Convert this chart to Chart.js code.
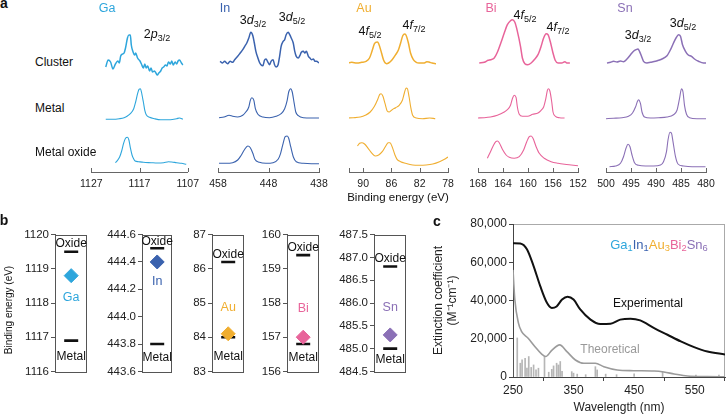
<!DOCTYPE html>
<html>
<head>
<meta charset="utf-8">
<script src="https://cdn.jsdelivr.net/npm/chart.js@4.4.1/dist/chart.umd.min.js"></script>
<style>
  body { margin: 0; background: #fff; font-family: "Liberation Sans", Arial, sans-serif; color: #111; }
  #fig { position: relative; width: 727px; height: 415px; overflow: hidden; }
  #fig canvas { position: absolute; }
  .t { position: absolute; white-space: nowrap; line-height: 1; transform: translate(-50%, -50%); }
  .t sub { font-size: 0.72em; vertical-align: -0.32em; line-height: 0; }
</style>
</head>
<body>
<div id="fig"></div>
<script>
// ---- panel a : XPS spectra, pairs of [binding energy (eV), intensity (a.u.)]
const gaCluster = [[1124.0,11],[1123.5,18],[1123.0,16],[1122.5,9],[1122.0,14],[1121.5,17],[1121.2,15],[1120.9,22],[1120.5,24],[1120.2,25],[1119.9,30],[1119.5,40],[1119.2,43],[1118.9,43],[1118.7,33],[1118.4,27],[1118.0,23],[1117.8,25],[1117.4,20],[1116.9,17],[1116.6,14],[1116.2,10],[1115.9,14],[1115.6,10],[1115.3,12],[1114.9,7],[1114.6,10],[1114.3,6],[1113.9,7],[1113.6,5],[1113.3,3],[1113.0,5],[1112.6,7],[1112.3,10],[1112.0,11],[1111.6,13],[1111.3,12],[1111.0,16],[1110.6,14],[1110.3,17],[1110.0,13],[1109.6,16],[1109.3,14],[1109.0,17],[1108.7,18],[1108.3,15],[1108.0,13]];
const gaMetal = [[1124.0,2.7],[1122.5,2.7],[1121.2,3.3],[1120.2,4.3],[1119.5,6],[1118.9,8.3],[1118.2,13.3],[1117.8,20],[1117.4,28.3],[1117.1,32.7],[1116.8,33.3],[1116.6,30],[1116.2,20],[1115.9,11.7],[1115.6,7.3],[1114.9,4.7],[1113.9,3.3],[1112.6,2.3],[1110.6,2.3],[1109.3,3.3],[1108.7,4],[1108.0,2.7]];
const gaOxide = [[1122.0,2.3],[1121.5,5],[1121.1,8.3],[1120.7,14],[1120.3,21.7],[1119.9,26.7],[1119.5,27.7],[1119.2,25],[1118.9,17.3],[1118.55,10],[1118.2,6],[1117.9,4],[1117.2,3.3],[1116.2,2.7],[1114.6,2.3],[1113.3,2],[1112.0,2.3],[1111.0,3.3],[1110.3,3],[1109.3,2.3],[1108.3,1.7],[1107.3,0.7]];

const inCluster = [[457.6,16.7],[457.1,15],[456.7,16.7],[456.1,14.3],[455.6,16.7],[455.1,15.7],[454.7,18.3],[454.1,21.7],[453.6,25],[453.1,28.3],[452.7,31.7],[452.3,35],[451.9,40],[451.5,45.7],[451.1,42.3],[450.8,35],[450.5,26.7],[450.1,20],[449.8,15.7],[449.5,13.3],[449.1,12.3],[448.8,17.7],[448.5,19],[448.1,15.7],[447.8,13.3],[447.5,16.7],[447.1,18.3],[446.8,13.3],[446.5,11],[446.1,13.3],[445.8,21.7],[445.5,31.7],[445.1,36.7],[444.8,38.3],[444.5,43.3],[444.1,45.7],[443.8,43.3],[443.5,40],[443.1,35],[442.8,26.7],[442.5,21.7],[442.1,20],[441.8,22.3],[441.5,25.7],[441.1,26.7],[440.8,25],[440.5,26.7],[440.1,21.7],[439.8,20],[439.5,18.3],[439.1,19],[438.8,16.7],[438.5,16.7],[438.0,15]];
const inMetal = [[457.8,4.3],[456.8,5],[455.8,6.7],[455.1,5.7],[454.1,5],[453.1,6.7],[452.5,10],[451.9,15],[451.6,21.7],[451.3,24.3],[450.9,21.7],[450.6,13.3],[450.1,7.7],[449.1,5],[447.8,4.3],[446.5,5.7],[445.5,8.3],[444.8,13.3],[444.3,21.7],[444.0,30],[443.6,33.3],[443.3,30],[442.9,18.3],[442.6,10],[442.1,6.3],[441.1,4.3],[439.5,4],[438.0,4]];
const inOxide = [[457.8,1.7],[456.5,1.7],[455.1,2.3],[454.1,5],[453.5,9],[452.8,15],[452.1,19],[451.6,17.3],[451.1,11.7],[450.7,5.7],[449.8,2.7],[448.5,1.7],[447.1,2.3],[446.1,5.7],[445.6,11.7],[445.1,21.7],[444.7,28.3],[444.3,29],[444.0,26.7],[443.6,18.3],[443.1,8.3],[442.5,3.3],[441.1,1.7],[439.5,1.3],[438.0,1.3]];

const auCluster = [[92.2,15],[91.6,15.7],[90.9,15],[90.2,15.7],[89.6,16.7],[89.1,20],[88.75,26.7],[88.4,34.3],[88.0,36],[87.8,34.3],[87.4,25],[87.1,17.7],[86.7,14.3],[86.4,15],[85.9,18.3],[85.4,23.3],[85.0,28.3],[84.7,35],[84.4,42.3],[84.1,44],[83.9,42.3],[83.6,35],[83.3,25],[82.9,18.3],[82.5,15.7],[82.1,15],[81.35,15],[81.0,16.3],[80.6,15.7],[80.25,15],[79.7,14.3]];
const auMetal = [[92.2,4],[91.4,4.3],[90.4,5],[89.7,6.7],[89.0,10],[88.4,15.7],[87.9,23.3],[87.65,27.7],[87.46,28.3],[87.2,25.7],[86.9,18.3],[86.6,11],[86.3,10],[85.9,12.3],[85.4,14.3],[84.9,16.7],[84.45,21.7],[84.17,29],[83.93,34],[83.74,33.3],[83.5,25],[83.26,14.3],[83.0,6.7],[82.5,4],[81.6,3.3],[80.6,4],[79.8,3.3]];
const auOxide = [[90.8,19],[90.5,21.7],[90.2,22.3],[89.8,21],[89.3,16.7],[88.75,11.7],[88.3,9],[87.8,10],[87.3,13.3],[86.8,19],[86.46,22.3],[86.2,22.3],[85.9,18.3],[85.5,10],[85.2,5.7],[84.7,3.3],[84.0,1.7],[83.0,0],[82.1,-0.3],[81.1,0],[80.15,1],[79.2,3.3],[78.5,5.7],[78.0,8]];

const biCluster = [[167.8,15],[167.0,15.7],[166.4,17.7],[166.0,18.3],[165.4,20],[164.9,25.7],[164.35,35],[163.8,45],[163.3,53.3],[162.8,57.3],[162.5,58.3],[162.1,55.7],[161.7,46.7],[161.2,31.7],[160.9,20],[160.5,14.3],[160.05,13.3],[159.5,15],[159.0,18.3],[158.4,23.3],[157.9,31.7],[157.5,40],[157.1,44.3],[156.8,43.3],[156.45,36.7],[156.0,25],[155.65,17.7],[155.2,15],[154.6,15],[154.1,16.3],[153.8,15],[153.3,15]];
const biMetal = [[168.1,4],[167.0,4.3],[166.0,5],[164.9,6.7],[163.8,10],[163.3,12.3],[162.8,16.7],[162.5,23.3],[162.2,26.7],[161.9,24.3],[161.7,15],[161.4,7.7],[160.9,5.7],[160.05,5.7],[159.25,7.7],[158.4,9],[157.9,11.7],[157.5,15],[157.15,23.3],[156.9,31.7],[156.7,33.3],[156.5,31],[156.2,20],[156.0,10],[155.6,5.7],[154.95,4.3],[154.15,4]];
const biOxide = [[166.5,6.7],[166.0,13.3],[165.5,20],[165.15,23.3],[164.9,24],[164.6,22.3],[164.1,15.7],[163.5,10],[163.0,7.7],[162.2,6.7],[161.4,8.3],[160.7,15],[160.2,23.3],[159.8,28.3],[159.5,29],[159.2,26.7],[158.7,18.3],[158.2,11.7],[157.4,6.7],[156.3,3.3],[155.2,1.7],[154.15,0.7],[153.1,0],[152.0,-0.7]];

const snCluster = [[499.8,15],[499.1,15.7],[498.5,16.7],[497.8,16],[497.1,17],[496.5,16.3],[495.8,19],[495.1,23.3],[494.5,26.7],[494.0,28.3],[493.6,29],[493.3,26.7],[492.9,21.7],[492.5,16.7],[491.8,15],[491.1,15.7],[490.1,16.7],[489.5,17.7],[488.8,19],[487.8,22.3],[487.1,28.3],[486.5,35],[486.0,40],[485.5,43.3],[485.1,41.7],[484.7,33.3],[484.1,26.7],[483.6,23.3],[482.9,21.7],[482.3,19],[481.5,16.7],[480.5,15],[480.0,15]];
const snMetal = [[500.0,3.3],[498.5,3.7],[496.8,4.3],[495.5,5.7],[494.7,9],[494.1,15],[493.7,20.7],[493.5,22.3],[493.1,18.3],[492.8,10],[492.3,5],[491.1,4],[489.5,4.3],[487.8,5],[486.5,7.3],[485.8,11.7],[485.3,23.3],[484.9,33.3],[484.6,30],[484.3,16.7],[483.9,7.7],[483.3,4.3],[481.8,3.3],[480.0,3.3]];
const snOxide = [[499.3,-1.7],[498.1,-1],[497.1,1.7],[496.5,8.3],[496.0,16.7],[495.6,20.7],[495.2,18.3],[494.8,10],[494.3,2.3],[493.5,-0.3],[492.1,-1],[490.5,-1],[489.1,0],[488.5,3.3],[487.9,13.3],[487.6,25],[487.2,32.7],[486.9,31.7],[486.6,23.3],[486.1,8.3],[485.6,1],[484.5,-1],[482.8,-1.7],[480.1,-1.7]];

const gaTicks = [1127, 1117, 1107];
const inTicks = [458, 448, 438];
const auTicks = [90, 86, 82, 78];
const biTicks = [168, 164, 160, 156, 152];
const snTicks = [500, 495, 490, 485, 480];

// ---- panel b : binding energies (eV)
const bElements = ['Ga', 'In', 'Au', 'Bi', 'Sn'];
const oxideBE   = [1119.5, 444.5, 86.2, 159.4, 486.8];
const clusterBE = [1118.8, 444.4, 84.1, 157.0, 485.3];
const metalBE   = [1116.9, 443.8, 84.0, 156.8, 485.0];
const bMin  = [1116, 443.6, 83, 156, 484.5];
const bMax  = [1120, 444.6, 87, 160, 487.5];
const bStep = [1, 0.2, 1, 1, 0.5];

// ---- panel c : extinction spectra
const expWl  = [250, 262, 273, 284, 295, 306, 314, 322, 331, 340, 350, 361, 378, 394, 411, 427, 444, 460, 483, 505, 527, 549, 571, 600];
const expEps = [70000, 69800, 66800, 58000, 47500, 38800, 36100, 36900, 40500, 42000, 40500, 35300, 30000, 27700, 27900, 30000, 30500, 29600, 25600, 22100, 18600, 15600, 13300, 11800];
const thWl   = [250, 253, 259, 264, 275, 286, 297, 304, 314, 327, 339, 353, 367, 386, 400, 422, 449, 483, 499, 516, 538, 571, 600];
const thEps  = [56000, 40500, 28200, 23900, 20300, 16000, 12100, 10700, 13900, 16800, 13300, 8900, 7200, 7200, 5400, 3700, 3300, 3100, 2600, 1600, 500, 200, 100];
const stickWl  = [250, 257, 262, 265, 270, 273, 276, 280, 284, 288, 292, 302, 309, 314, 317, 322, 325, 328, 331, 347, 350, 356, 370, 386, 389, 403, 421, 450, 497, 552, 590];
const stickEps = [14000, 20400, 7200, 9000, 9800, 4600, 10700, 5000, 6300, 3700, 4600, 10700, 2500, 4000, 5800, 7200, 6300, 8100, 3000, 2800, 2000, 1500, 1200, 5400, 3700, 1500, 1200, 1600, 2800, 1000, 1000];
const cTicksX = [250, 350, 450, 550];

// colours
const colGa = '#2ea6dc', colIn = '#3a62ae', colAu = '#f0ae30', colBi = '#e8649a', colSn = '#8b70b6';
const elColors = [colGa, colIn, colAu, colBi, colSn];

Chart.defaults.font.family = '"Liberation Sans", Arial, sans-serif';
Chart.defaults.color = '#222';
Chart.defaults.animation = false;
Chart.defaults.plugins.legend.display = false;
Chart.defaults.plugins.tooltip.enabled = false;

const fig = document.getElementById('fig');

function addCanvas(x, y, w, h) {
  const c = document.createElement('canvas');
  c.width = w; c.height = h;
  c.style.left = x + 'px'; c.style.top = y + 'px';
  c.style.width = w + 'px'; c.style.height = h + 'px';
  fig.appendChild(c);
  return c;
}

function text(html, x, y, css) {
  const d = document.createElement('div');
  d.className = 't';
  d.innerHTML = html;
  d.style.left = x + 'px';
  d.style.top = y + 'px';
  Object.assign(d.style, css || {});
  fig.appendChild(d);
  return d;
}

// small tick marks pointing up from the x axis line
const upTicks = {
  id: 'upTicks',
  afterDraw(chart) {
    const s = chart.scales.x, ctx = chart.ctx, a = chart.chartArea;
    const xs = s.ticks.map(t => s.getPixelForValue(t.value)).concat([a.left, a.right]);
    ctx.save();
    ctx.strokeStyle = '#666';
    ctx.lineWidth = 1;
    xs.forEach(px => {
      const p = Math.round(px) + 0.5;
      ctx.beginPath(); ctx.moveTo(p, a.bottom); ctx.lineTo(p, a.bottom - 4); ctx.stroke();
    });
    ctx.restore();
  }
};

// ---------------- panel a ----------------
const rowBase = [94, 50, 7];   // cluster, metal, metal oxide
const aPanels = [
  { color: colGa, lo: 1107, hi: 1127, left: 89,  right: 190, ticks: gaTicks, rows: [gaCluster, gaMetal, gaOxide] },
  { color: colIn, lo: 438,  hi: 458,  left: 218, right: 319, ticks: inTicks, rows: [inCluster, inMetal, inOxide] },
  { color: colAu, lo: 78,   hi: 92,   left: 349, right: 448, ticks: auTicks, rows: [auCluster, auMetal, auOxide] },
  { color: colBi, lo: 152,  hi: 168,  left: 478, right: 578, ticks: biTicks, rows: [biCluster, biMetal, biOxide] },
  { color: colSn, lo: 480,  hi: 500,  left: 606, right: 706, ticks: snTicks, rows: [snCluster, snMetal, snOxide] }
];

aPanels.forEach(p => {
  const cv = addCanvas(p.left - 15, 0, p.right - p.left + 30, 192);
  new Chart(cv, {
    type: 'line',
    data: {
      datasets: p.rows.map((r, k) => ({
        data: r.map(([e, v]) => ({ x: e, y: v + rowBase[k] })),
        borderColor: p.color,
        borderWidth: k === 0 ? 1.5 : 1.1,
        pointRadius: 0,
        cubicInterpolationMode: 'monotone',
        fill: false
      }))
    },
    options: {
      responsive: false,
      layout: { padding: { left: 15, right: 15, top: 0, bottom: 0 } },
      scales: {
        x: {
          type: 'linear', min: p.lo, max: p.hi, reverse: true,
          afterBuildTicks: s => { s.ticks = p.ticks.map(v => ({ value: v })); },
          afterFit: s => { s.height = 20; },
          grid: { display: false, drawTicks: false },
          border: { display: true, color: '#666', width: 1 },
          ticks: { padding: 6, font: { size: 10.5 }, color: '#222', maxRotation: 0, callback: v => String(v) }
        },
        y: { display: false, min: 0, max: 172 }
      }
    },
    plugins: [upTicks]
  });
});

text('<b>a</b>', 4, 3, { fontSize: '14px' });
text('Ga', 107, 8, { fontSize: '12.5px', color: colGa });
text('In', 225, 8, { fontSize: '12.5px', color: colIn });
text('Au', 364, 8, { fontSize: '12.5px', color: colAu });
text('Bi', 491, 8, { fontSize: '12.5px', color: colBi });
text('Sn', 625, 8, { fontSize: '12.5px', color: colSn });

const peakCss = { fontSize: '12.5px' };
text('2<i>p</i><sub>3/2</sub>', 157, 34, peakCss);
text('3<i>d</i><sub>3/2</sub>', 253, 20, peakCss);
text('3<i>d</i><sub>5/2</sub>', 292, 17, peakCss);
text('4<i>f</i><sub>5/2</sub>', 370, 31, peakCss);
text('4<i>f</i><sub>7/2</sub>', 414, 25, peakCss);
text('4<i>f</i><sub>5/2</sub>', 525, 15, peakCss);
text('4<i>f</i><sub>7/2</sub>', 558, 27, peakCss);
text('3<i>d</i><sub>3/2</sub>', 638, 35, peakCss);
text('3<i>d</i><sub>5/2</sub>', 683, 23, peakCss);

const rowCss = { fontSize: '12px', transform: 'translate(0,-50%)' };
text('Cluster', 35, 62, rowCss);
text('Metal', 35, 108, rowCss);
text('Metal oxide', 35, 152, rowCss);
text('Binding energy (eV)', 398, 198, { fontSize: '11.5px' });

// ---------------- panel b ----------------
const bLayout = [
  { left: 55,  w: 40, dec: 0, tagDy: 22,  oxDy: -8.5, meDy: 16 },
  { left: 142, w: 38, dec: 1, tagDy: 20,  oxDy: -7,   meDy: 14 },
  { left: 212, w: 40, dec: 0, tagDy: -26, oxDy: -7,   meDy: 19 },
  { left: 287, w: 40, dec: 0, tagDy: -29, oxDy: -7,   meDy: 14 },
  { left: 374, w: 40, dec: 1, tagDy: -27, oxDy: -8,   meDy: 11 }
];

bElements.forEach((el, i) => {
  const L = bLayout[i];
  const cv = addCanvas(L.left - 48, 225, 48 + L.w + 2, 156);
  const notes = {
    id: 'notes',
    afterDraw(chart) {
      const ctx = chart.ctx, y = chart.scales.y, a = chart.chartArea;
      const cx = (a.left + a.right) / 2;
      ctx.save();
      ctx.strokeStyle = '#555'; ctx.lineWidth = 1;
      ctx.strokeRect(Math.round(a.left) + 0.5, Math.round(a.top) + 0.5, Math.round(a.right - a.left) - 1, Math.round(a.bottom - a.top));
      ctx.textAlign = 'center'; ctx.textBaseline = 'middle';
      ctx.font = '12px "Liberation Sans", Arial, sans-serif';
      ctx.fillStyle = '#111';
      ctx.fillText('Oxide', cx, y.getPixelForValue(oxideBE[i]) + L.oxDy);
      ctx.fillText('Metal', cx, y.getPixelForValue(metalBE[i]) + L.meDy);
      ctx.font = '12.5px "Liberation Sans", Arial, sans-serif';
      ctx.fillStyle = elColors[i];
      ctx.fillText(el, cx, y.getPixelForValue(clusterBE[i]) + L.tagDy);
      ctx.restore();
    }
  };
  new Chart(cv, {
    type: 'scatter',
    data: {
      datasets: [
        { data: [{ x: 1, y: clusterBE[i] }], pointStyle: 'rectRot', pointRadius: 7,
          backgroundColor: elColors[i], borderColor: elColors[i], borderWidth: 1 },
        { data: [{ x: 1, y: oxideBE[i] }, { x: 1, y: metalBE[i] }], pointStyle: 'line', pointRadius: 7,
          borderColor: '#111', borderWidth: 2.6 }
      ]
    },
    options: {
      responsive: false,
      layout: { padding: { left: 0, right: 2, top: 8, bottom: 8 } },
      scales: {
        x: { display: false, min: 0, max: 2 },
        y: {
          min: bMin[i], max: bMax[i],
          afterFit: s => { s.width = 48; },
          ticks: { stepSize: bStep[i], padding: 2, font: { size: 11.5 }, color: '#222', callback: v => v.toFixed(L.dec) },
          grid: { drawOnChartArea: false, tickLength: 4, color: '#555' },
          border: { display: true, color: '#555' }
        }
      }
    },
    plugins: [notes]
  });
});

text('<b>b</b>', 4, 220, { fontSize: '14px' });
text('Binding energy (eV)', 9, 310, { fontSize: '10px', transform: 'translate(-50%,-50%) rotate(-90deg)' });

// ---------------- panel c ----------------
const frameC = {
  id: 'frameC',
  beforeDraw(chart) {
    const a = chart.chartArea, ctx = chart.ctx;
    ctx.save();
    ctx.strokeStyle = '#aaa'; ctx.lineWidth = 1;
    ctx.strokeRect(Math.round(a.left) + 0.5, Math.round(a.top) + 0.5, Math.round(a.right - a.left) - 1, Math.round(a.bottom - a.top));
    ctx.restore();
  }
};

const cvC = addCanvas(425, 214, 302, 201);
new Chart(cvC, {
  type: 'line',
  data: {
    datasets: [
      { label: 'Experimental', data: expWl.map((w, i) => ({ x: w, y: expEps[i] })),
        borderColor: '#111', borderWidth: 2, pointRadius: 0, cubicInterpolationMode: 'monotone' },
      { label: 'Theoretical', data: thWl.map((w, i) => ({ x: w, y: thEps[i] })),
        borderColor: '#9b9b9b', borderWidth: 1.6, pointRadius: 0, cubicInterpolationMode: 'monotone' },
      { type: 'bar', label: 'Transitions', data: stickWl.map((w, i) => ({ x: w, y: stickEps[i] })),
        backgroundColor: 'rgba(110,110,110,0.5)', borderWidth: 0, barThickness: 1, grouped: false }
    ]
  },
  options: {
    responsive: false,
    layout: { padding: { left: 2, right: 2, top: 10, bottom: 0 } },
    scales: {
      x: {
        type: 'linear', min: 250, max: 600, offset: false,
        afterBuildTicks: s => { s.ticks = cTicksX.map(v => ({ value: v })); },
        afterFit: s => { s.height = 38; },
        grid: { drawOnChartArea: false, tickLength: 4, color: '#444' },
        border: { display: true, color: '#444' },
        ticks: { padding: 2, font: { size: 12 }, color: '#222', maxRotation: 0, callback: v => String(v) },
        title: { display: true, text: 'Wavelength (nm)', font: { size: 12 }, color: '#222', padding: { top: 0, bottom: 0 } }
      },
      y: {
        min: 0, max: 80000,
        afterFit: s => { s.width = 86; },
        ticks: { stepSize: 20000, padding: 2, font: { size: 12 }, color: '#222', callback: v => v.toLocaleString('en-US') },
        grid: { drawOnChartArea: false, tickLength: 4, color: '#444' },
        border: { display: true, color: '#444' },
        title: { display: true, text: ['Extinction coefficient', '(M\u207B\u00B9cm\u207B\u00B9)'], font: { size: 12 }, color: '#222', padding: { top: 4, bottom: 0 } }
      }
    }
  },
  plugins: [frameC]
});

text('<b>c</b>', 437, 221, { fontSize: '14px' });
text('<span style="color:' + colGa + '">Ga<sub>1</sub></span><span style="color:' + colIn + '">In<sub>1</sub></span><span style="color:' + colAu + '">Au<sub>3</sub></span><span style="color:' + colBi + '">Bi<sub>2</sub></span><span style="color:' + colSn + '">Sn<sub>6</sub></span>',
  659, 244, { fontSize: '13px' });
text('Experimental', 648, 303, { fontSize: '12px' });
text('Theoretical', 610, 349, { fontSize: '12px', color: '#999' });
</script>
</body>
</html>
